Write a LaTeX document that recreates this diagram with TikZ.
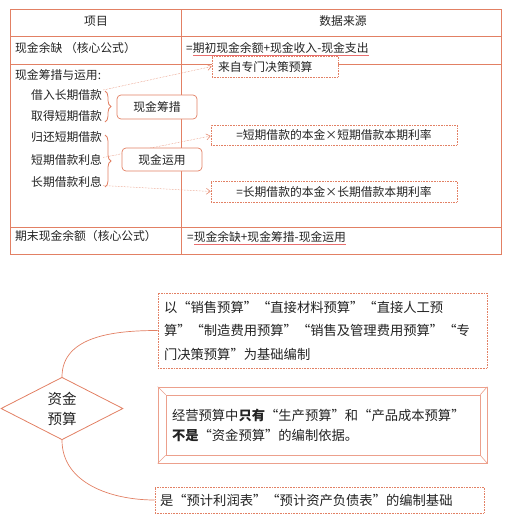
\documentclass[tikz,border=0pt]{standalone}
\usepackage{fontspec}
\setmainfont{Noto Sans CJK SC}
\usetikzlibrary{decorations.pathreplacing,calc,arrows.meta,shapes.geometric}
\definecolor{ln}{RGB}{226,128,100}
\definecolor{lnl}{RGB}{236,160,140}
\definecolor{tx}{RGB}{35,35,35}
\definecolor{ul}{RGB}{232,110,110}
\begin{document}
\begin{tikzpicture}[x=1pt,y=-1pt,
  tbl/.style={draw=ln,line width=0.8pt},
  tf/.style={font=\fontsize{11.8}{14}\selectfont},
  bf/.style={font=\fontsize{13.3}{23.5}\selectfont},
  t/.style={tf,inner sep=0pt,text=tx,anchor=west},
  rbox/.style={tf,draw=ln,line width=0.7pt,rounded corners=4pt,fill=white,text=tx,inner sep=0pt},
  dbox/.style={draw=ln,line width=0.6pt,densely dotted,fill=white,text=tx,inner sep=0pt},
  darr/.style={draw=ln,line width=0.5pt,densely dotted,-{Straight Barb[length=4pt,width=6pt]}},
  brc/.style={draw=ln,line width=0.8pt,decorate,decoration={brace,amplitude=6pt}},
  curve/.style={draw=ln,line width=0.7pt},
]
\useasboundingbox (0,0) rectangle (520,520);
% table
\draw[tbl] (10,9) rectangle (501,254);
\draw[tbl] (181,9) -- (181,254);
\draw[tbl] (10,36) -- (501,36);
\draw[tbl] (10,64) -- (501,64);
\draw[tbl] (10,227) -- (501,227);
\node[tf,text=tx,inner sep=0pt] (h1) at (96,21) {项目};
\node[tf,text=tx,inner sep=0pt] (h2) at (343,21) {数据来源};
\node[t] (r1) at (15,48) {现金余缺 （核心公式）};
\node[t] (f1) at (186,47.5) {=期初现金余额+现金收入-现金支出};
\node[t] (r2) at (15,75) {现金筹措与运用:};
\node[t] (a1) at (31,95) {借入长期借款};
\node[t] (a2) at (31,116.5) {取得短期借款};
\node[t] (a3) at (31,137.5) {归还短期借款};
\node[t] (a4) at (31,159.5) {短期借款利息};
\node[t] (a5) at (31,181.5) {长期借款利息};
\node[t] (r3) at (15,236.5) {期末现金余额（核心公式）};
\node[t] (f2) at (187,236.5) {=现金余缺+现金筹措-现金运用};
\draw[ul,line width=0.35pt] ($(f1.south west)+(7,1.5)$) -- ($(f1.south east)+(0,1.5)$);
\draw[ul,line width=0.35pt] ($(f2.south west)+(7,1.5)$) -- ($(f2.south east)+(0,1.5)$);
% braces
\draw[brc] (105,91) -- (105,122);
\draw[brc] (105,135) -- (105,187);
% target boxes
\node[dbox,tf,minimum width=126,minimum height=21,text width=114pt,inner xsep=6pt,align=left] (s1) at (275,66.5) {来自专门决策预算};
\node[dbox,tf,minimum width=246,minimum height=20] (s2) at (334,135) {=短期借款的本金×短期借款本期利率};
\node[dbox,tf,minimum width=246,minimum height=21] (s3) at (334,191.5) {=长期借款的本金×长期借款本期利率};
% arrows
\draw[darr] ($(a1.east)+(1,-5)$) -- (s1.west);
\draw[darr] ($(a4.east)+(1,-2)$) -- ($(s2.west)+(0,1)$);
\draw[darr] ($(a5.east)+(1,4)$) -- (s3.west);
% cash boxes
\node[rbox,minimum width=80,minimum height=24] (c1) at (157,107) {现金筹措};
\node[rbox,minimum width=80,minimum height=23] (c2) at (162,159.5) {现金运用};
% bottom part
\node[draw=ln,line width=0.8pt,diamond,minimum width=122,minimum height=60,inner sep=0pt,text=tx,align=center,font=\fontsize{14.5}{20}\selectfont] (dia) at (62,408.5) {资金\\预算};
\node[dbox,line width=0.8pt,bf,minimum width=329,minimum height=75,text width=317pt,inner xsep=6pt,align=left] (b1) at (322.5,330.5) {以“销售预算”“直接材料预算”“直接人工预\\算”“制造费用预算”“销售及管理费用预算”“专\\门决策预算”为基础编制};
\node[draw=lnl,line width=0.6pt,minimum width=329,minimum height=76,inner sep=0pt] (b2) at (322.5,425) {};
\node[draw=lnl,line width=0.6pt,minimum width=314,minimum height=60,inner sep=0pt,text=tx,bf,font=\fontsize{13.3}{20}\selectfont,text width=302pt,inner xsep=6pt,align=left] (b2i) at (323,425) {经营预算中\textbf{只有}“生产预算”和“产品成本预算”\\\textbf{不是}“资金预算”的编制依据。};
\draw[lnl,line width=0.6pt] (b2.north west) -- (b2i.north west);
\draw[lnl,line width=0.6pt] (b2.north east) -- (b2i.north east);
\draw[lnl,line width=0.6pt] (b2.south west) -- (b2i.south west);
\draw[lnl,line width=0.6pt] (b2.south east) -- (b2i.south east);
\node[dbox,line width=0.8pt,bf,minimum width=329,minimum height=26,text width=319pt,inner xsep=5pt,align=left] (b3) at (319.5,500) {是“预计利润表”“预计资产负债表”的编制基础};
\draw[curve] (dia.north) to[out=90,in=180] (b1.west);
\draw[curve] (dia.south) to[out=-90,in=180] (b3.west);
\end{tikzpicture}
\end{document}
